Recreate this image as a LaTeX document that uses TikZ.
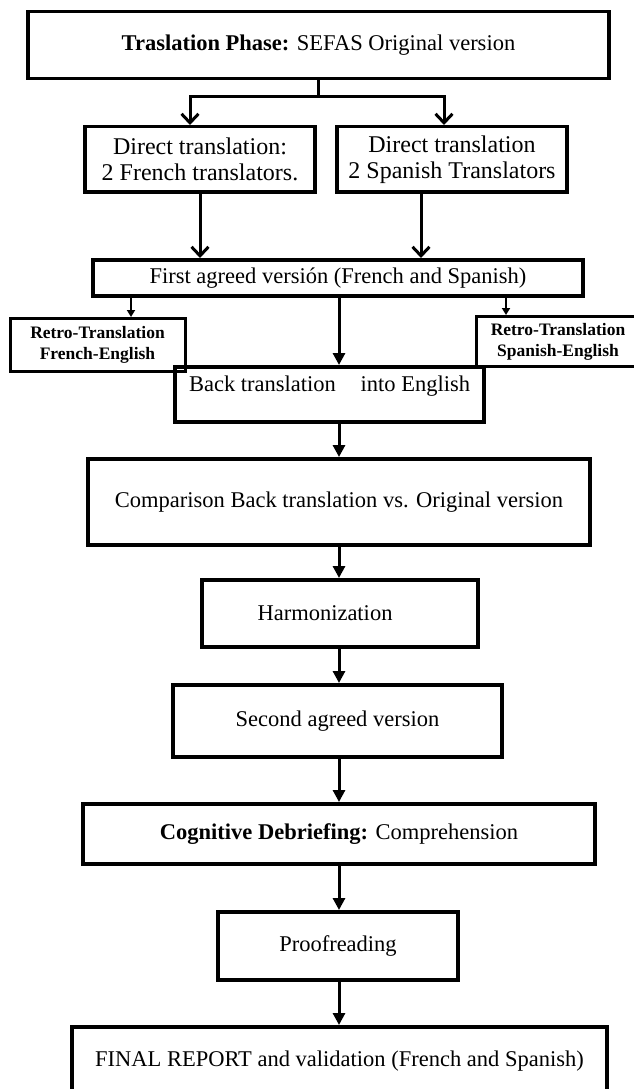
\documentclass[tikz,border=0pt]{standalone}
\usepackage{fontspec}
\setmainfont{Liberation Serif}
\usetikzlibrary{arrows.meta}

\begin{document}
\begin{tikzpicture}[x=1pt, y=-1pt,
    stagebox/.style={draw, line width=3.5pt, inner sep=0pt, align=center, anchor=north,
      font=\fontsize{22.5}{26}\selectfont},
    retrobox/.style={draw, line width=3pt, inner sep=0pt, align=center, anchor=north,
      font=\bfseries\fontsize{17.5}{21}\selectfont},
    flowarrow/.style={line width=3pt, -{Triangle[length=12pt,width=12pt]}},
    splitarrow/.style={line width=3pt, -{Straight Barb[length=9pt,width=17pt,line width=3pt]}},
    retroarrow/.style={line width=2.5pt, -{Triangle[length=7pt,width=8pt]}}]
    \useasboundingbox[fill=white] (0,0) rectangle (633,1089);

    \node[stagebox, minimum width=581pt, minimum height=67pt] (phase) at (318.5,10)
        {\textbf{Traslation Phase:} SEFAS Original version};
    \node[stagebox, minimum width=230pt, minimum height=65pt, font=\fontsize{24}{26}\selectfont] (dirfr) at (200,125)
        {Direct translation:\\2 French translators.};
    \node[stagebox, minimum width=230pt, minimum height=65pt, font=\fontsize{24}{26}\selectfont] (dirsp) at (452,125)
        {Direct translation\\2 Spanish Translators};
    \node[stagebox, minimum width=490pt, minimum height=36pt] (first) at (338,258)
        {First agreed versión (French and Spanish)};
    \node[retrobox, minimum width=175pt, minimum height=53pt] (retrofr) at (97.5,317)
        {Retro-Translation\\French-English};
    \node[retrobox, minimum width=164pt, minimum height=50pt] (retrosp) at (558,315)
        {Retro-Translation\\Spanish-English};
    \node[stagebox, minimum width=309pt, text height=24.5pt, text depth=30.5pt] (back) at (329.5,365)
        {Back translation\hspace{1.1em}into English};
    \node[stagebox, minimum width=502pt, minimum height=86pt] (comp) at (339,457)
        {Comparison Back translation vs. Original version};
    \node[stagebox, minimum width=276pt, minimum height=67pt] (harm) at (340,578)
        {Harmonization\hspace*{30pt}};
    \node[stagebox, minimum width=329pt, minimum height=72pt] (second) at (337.5,683)
        {Second agreed version};
    \node[stagebox, minimum width=512pt, minimum height=60pt] (cogn) at (339,802)
        {\textbf{Cognitive Debriefing:} Comprehension};
    \node[stagebox, minimum width=240pt, minimum height=68pt] (proof) at (338,910)
        {Proofreading};
    \node[stagebox, minimum width=535pt, minimum height=68pt] (final) at (339.5,1025)
        {FINAL REPORT and validation (French and Spanish)};

    \coordinate (split) at (318,97);
    \draw[line width=3pt] (phase.south -| split) -- (split);
    \draw[splitarrow] (split) -| ([xshift=-10pt]dirfr.north);
    \draw[splitarrow] (split) -| ([xshift=-8pt]dirsp.north);
    \draw[splitarrow] (dirfr.south) -- (dirfr.south |- first.north);
    \draw[splitarrow] ([xshift=-31pt]dirsp.south) -- ([xshift=-31pt]dirsp.south |- first.north);
    \draw[retroarrow] ([xshift=33.5pt]retrofr.north |- first.south) -- ([xshift=33.5pt]retrofr.north);
    \draw[retroarrow] ([xshift=-52pt]retrosp.north |- first.south) -- ([xshift=-52pt]retrosp.north);
    \draw[flowarrow] (first.south -| comp.north) -- (back.north -| comp.north);
    \draw[flowarrow] (back.south -| comp.north) -- (comp.north);
    \draw[flowarrow] (comp.south) -- (comp.south |- harm.north);
    \draw[flowarrow] (harm.south -| comp.south) -- (second.north -| comp.south);
    \draw[flowarrow] (second.south -| comp.south) -- (cogn.north -| comp.south);
    \draw[flowarrow] (cogn.south -| comp.south) -- (proof.north -| comp.south);
    \draw[flowarrow] (proof.south -| comp.south) -- (final.north -| comp.south);
\end{tikzpicture}
\end{document}
